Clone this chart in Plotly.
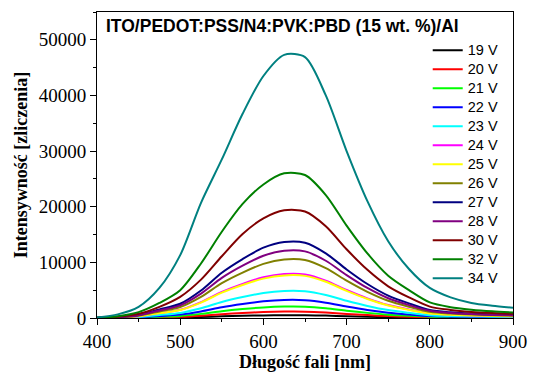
import plotly.graph_objects as go

wavelength = [400, 425, 450, 475, 500, 525, 550, 575, 600, 625, 650,
              675, 700, 725, 750, 775, 800, 825, 850, 875, 900]

v19 = [1, 6, 20, 57, 94, 180, 300, 390, 470, 500, 500, 430, 320, 225, 150, 95, 55, 38, 30, 23, 20]
v20 = [2, 14, 47, 130, 220, 420, 690, 900, 1070, 1150, 1140, 980, 740, 520, 340, 220, 120, 90, 70, 50, 45]
v21 = [4, 25, 82, 230, 380, 740, 1220, 1600, 1900, 2050, 2030, 1750, 1310, 920, 600, 390, 220, 150, 120, 100, 80]
v22 = [6, 40, 130, 360, 610, 1170, 1930, 2520, 3000, 3240, 3200, 2760, 2070, 1450, 950, 620, 340, 240, 190, 150, 130]
v23 = [10, 60, 195, 540, 910, 1750, 2880, 3760, 4480, 4840, 4790, 4120, 3090, 2160, 1420, 930, 510, 360, 280, 230, 190]
v24 = [16, 95, 315, 890, 1480, 2860, 4700, 6140, 7310, 7900, 7820, 6720, 5040, 3530, 2320, 1510, 840, 590, 460, 370, 310]
v25 = [15, 92, 305, 860, 1430, 2770, 4560, 5940, 7080, 7650, 7570, 6510, 4880, 3420, 2250, 1460, 810, 570, 440, 360, 300]
v26 = [21, 128, 420, 1180, 1970, 3800, 6260, 8170, 9730, 10510, 10410, 8950, 6710, 4700, 3090, 2010, 1120, 790, 610, 490, 420]
v27 = [27, 165, 550, 1540, 2560, 4940, 8140, 10600, 12650, 13670, 13530, 11630, 8730, 6110, 4020, 2620, 1450, 1020, 790, 640, 540]
v28 = [24, 145, 485, 1360, 2270, 4370, 7200, 9400, 11200, 12090, 11970, 10290, 7720, 5400, 3550, 2320, 1290, 910, 700, 560, 480]
v30 = [40, 230, 750, 2000, 3800, 6900, 11100, 15100, 17900, 19350, 19150, 16500, 12350, 8650, 5700, 3700, 2050, 1450, 1100, 900, 760]
v32 = [55, 320, 1050, 2700, 5000, 9800, 15500, 20500, 24000, 26000, 25700, 22100, 16600, 11600, 7600, 5000, 2800, 1950, 1500, 1200, 1000]
v34 = [100, 650, 2000, 5400, 11300, 20700, 28500, 36700, 43500, 47300, 46900, 40000, 30000, 21000, 13800, 8800, 5400, 3700, 2700, 2200, 1850]

series_names = ["19 V", "20 V", "21 V", "22 V", "23 V", "24 V", "25 V",
                "26 V", "27 V", "28 V", "30 V", "32 V", "34 V"]
series_values = [v19, v20, v21, v22, v23, v24, v25, v26, v27, v28, v30, v32, v34]
series_colors = ["#000000", "#FF0000", "#00FF00", "#0000FF", "#00FFFF", "#FF00FF",
                 "#FFFF00", "#808000", "#000080", "#800080", "#800000", "#008000", "#008080"]

x_ticks = [400, 500, 600, 700, 800, 900]
x_ticktext = ["400", "500", "600", "700", "800", "900"]
y_ticks = [0, 10000, 20000, 30000, 40000, 50000]
y_ticktext = ["0", "10000", "20000", "30000", "40000", "50000"]

fig = go.Figure()
for name, vals, col in zip(series_names, series_values, series_colors):
    fig.add_trace(go.Scatter(x=wavelength, y=vals,
                             name="<span style='font-size:14.5px'>" + name + "</span>",
                             mode="lines",
                             line=dict(color=col, width=2, shape="spline", smoothing=0.8)))

axis_common = dict(showline=True, linecolor="black", linewidth=1, mirror=True,
                   showgrid=False, zeroline=False, ticks="outside", ticklen=6,
                   tickcolor="black", automargin=False,
                   tickfont=dict(family="Liberation Serif", size=19, color="black"))

fig.update_xaxes(range=[400, 900], tickvals=x_ticks, ticktext=x_ticktext,
                 minor=dict(ticks="outside", ticklen=3, dtick=50, tick0=400, tickcolor="black"),
                 title=dict(text="<b>Długość fali [nm]</b>", standoff=4,
                            font=dict(family="Liberation Serif", size=18, color="black")),
                 **axis_common)
fig.update_yaxes(range=[0, 55000], tickvals=y_ticks, ticktext=y_ticktext,
                 minor=dict(ticks="outside", ticklen=3, dtick=5000, tick0=0, tickcolor="black"),
                 title=dict(text="<b>Intensywność [zliczenia]</b>", standoff=6,
                            font=dict(family="Liberation Serif", size=18, color="black")),
                 **axis_common)

fig.update_layout(
    width=535, height=379,
    margin=dict(l=97, r=22, t=12, b=61),
    paper_bgcolor="white", plot_bgcolor="white",
    showlegend=True,
    legend=dict(x=0.795, y=0.922, xanchor="left", yanchor="top",
                bgcolor="rgba(0,0,0,0)", borderwidth=0,
                font=dict(family="Liberation Sans", size=12.3, color="black"),
                tracegroupgap=0, itemwidth=30),
    annotations=[dict(text="<b>ITO/PEDOT:PSS/N4:PVK:PBD (15 wt. %)/Al</b>",
                      x=0.018, y=0.995, xref="paper", yref="paper",
                      xanchor="left", yanchor="top", showarrow=False,
                      font=dict(family="Liberation Sans", size=17.5, color="black"))],
)

fig.write_html("out.html", config={"displayModeBar": False},
               post_script="document.body.style.margin='0px';")
